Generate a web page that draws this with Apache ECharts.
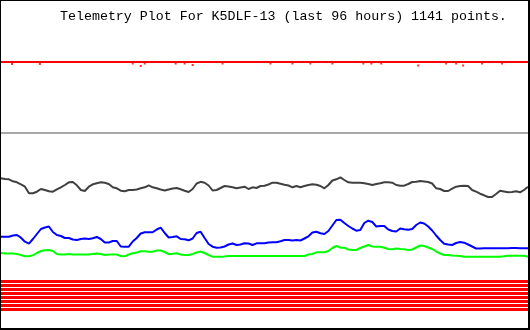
<!DOCTYPE html>
<html>
<head>
<meta charset="utf-8">
<script src="https://cdn.jsdelivr.net/npm/echarts@6/dist/echarts.min.js"></script>
<style>
html,body{margin:0;padding:0;background:#fff;}
#chart{width:530px;height:330px;}
</style>
</head>
<body>
<div id="chart"></div>
<script>
// Title
const titleText = "Telemetry Plot For K5DLF-13 (last 96 hours) 1141 points.";

// Channel readings (plot units, axis inverted), one sample per index (133 samples over 96 h)
const grayVals = [
178.3,179,179.3,181.3,182.3,184.3,186.7,193.3,193.3,191.7,189,190,191.3,191.7,189.3,187.3,185,182.3,182,185.3,190,191,186.7,184.3,183.3,182.3,182.7,184,187.3,188.3,190.7,191.3,190,190,
189.5,188.3,187.3,185.3,187.3,188.3,189.5,190.5,189.5,188.5,188,189.3,190.7,192,189,183.5,181.8,182.7,185.5,190.5,190,188,186,186.5,187.3,188.3,187.5,186.7,189,187.3,188,186,185.7,
184.5,182.7,182.7,183.7,184.7,185.5,187.3,186,187.3,186,185,184.3,184.7,186,188.3,185,180.5,179.3,177.3,180,182.3,182.7,182.7,182.7,183.3,184,185,184,183.3,182.3,182.3,182.7,
185,185.7,185.7,184,182,181.7,181,181.5,182,183.5,188.3,189,191,191,188.7,186.7,186,185.7,186,190,191.7,193.7,195.3,197,197,194,190.7,191.5,192.3,192,191.3,192.3,190,186.7];

const blueVals = [
236.7,236.7,236.7,235.5,235,237.7,241.7,243.7,239,234,229,227.5,226.5,232,235,236,238,238,239.5,240,239,238.5,239,238.3,237,239,242.5,242.5,241,241,246.5,246.7,246.7,241.5,
238,233.5,232.3,232.3,232.3,229.5,227.7,233,237.5,237,236.3,239,239.3,240.3,238.5,233,231.7,238,244,246.7,247.7,247.5,246.5,244.5,243.5,245,244.5,243.3,243.5,245,243.3,243.3,243.3,
242.5,242.3,242.3,241.3,240,240,240.5,240,240.5,238.5,236.3,232.5,231.7,233.3,234,231,225.5,220,219.7,223,226,228.5,230.7,230,223,220.7,222,226.5,226,226,229.5,231,
231.5,228.5,229.3,229.7,229,225,222.5,223.5,226.5,230.5,235.5,240,243.7,244.5,245,243,242,242.7,244.5,246.5,248.5,248.5,248.3,248.3,248.3,248.3,248.3,248.3,248.3,248,248,248.3,248.3,248.3];

const greenVals = [
253,253.5,253.5,253.5,254,255,256.3,256.3,255.3,253,251,250.3,250,251,254,254.5,254.5,254,254.5,254.5,254.5,254.5,254.5,254,253.5,254,255,254.5,254.5,254.5,256,256.3,254.5,253.3,
252.5,251.3,251.3,251.7,251.7,250.5,250.5,252,254,253.7,253.3,254.5,255,255,254,252.5,251.5,253,255,256.7,256.7,256.7,256.5,256,256,256,256,256,256,256,256,256,256,
256,256,256,256,256,256,256,256,256,256,254.5,254,252.3,252.3,252.3,251,248,246,247.7,247.7,249.5,250,250,248,246.5,245,246.5,246.7,246.7,247.7,249,249.3,
248.5,249,249.3,250,249.5,247.5,245.5,246,247.5,249,251.5,253.5,255,255,255.5,255.7,256,256.7,256.7,256.7,256.7,256.7,256.7,256.7,256.7,256.7,256.7,256.3,255.7,255.7,255.7,255.7,255.7,256.7];

// Top red channel: steady level with occasional single-sample drops
const redLevel = 62;
const redDipIdx = [2.75,9.75,33,35,36,43.75,46,48,55.5,67.5,73,77.5,83,90.75,92.75,95.25,104.5,111.5,114,115.75,120.5,125.5];
const redDipVals = [64,64,63.5,66,63.5,63.5,63.5,65,63.5,63.5,63.5,63.5,63.5,63.5,63.5,63.5,65.5,63.5,63.5,65.5,63.5,63.5];

// Reference level (gray) and digital bit channels (red bands)
const refLevel = 133;
const bitLevels = [281.5,285.5,289.5,293.5,297.5,301.5,305.5,309.5];

const lastIdx = grayVals.length - 1;
const toPairs = arr => arr.map((v, i) => [i, v]);
const flat = v => [[0, v], [lastIdx, v]];

const series = [];
bitLevels.forEach(v => series.push({type:'line', data: flat(v), showSymbol:false, lineStyle:{color:'#ff0000', width:3}, silent:true}));
series.push({type:'line', data: flat(refLevel), showSymbol:false, lineStyle:{color:'#a8a8a8', width:2}, silent:true});
series.push({type:'line', data: flat(redLevel), showSymbol:false, lineStyle:{color:'#ff0000', width:2}, silent:true});
series.push({type:'scatter', data: redDipIdx.map((x, i) => [x, redDipVals[i]]), symbol:'rect', symbolSize:[2,2], itemStyle:{color:'#ff0000'}, silent:true});
series.push({type:'line', data: toPairs(grayVals), showSymbol:false, lineStyle:{color:'#404040', width:2}, silent:true});
series.push({type:'line', data: toPairs(blueVals), showSymbol:false, lineStyle:{color:'#0000ff', width:2}, silent:true});
series.push({type:'line', data: toPairs(greenVals), showSymbol:false, lineStyle:{color:'#00ff00', width:2}, silent:true});

const chart = echarts.init(document.getElementById('chart'), null, {renderer:'canvas'});
chart.setOption({
  animation:false,
  backgroundColor:'#ffffff',
  title:{
    text:titleText, left:60, top:10, padding:0,
    textStyle:{fontFamily:'Liberation Mono', fontSize:13.3, fontWeight:'normal', color:'#000'}
  },
  grid:{left:1, right:2, top:0, bottom:0},
  xAxis:{type:'value', min:0, max:lastIdx, show:false, splitLine:{show:false}},
  yAxis:{type:'value', min:0, max:330, inverse:true, show:false, splitLine:{show:false}},
  graphic:[
    {type:'rect', shape:{x:0,y:0,width:530,height:1}, style:{fill:'#000'}, z:100},
    {type:'rect', shape:{x:0,y:0,width:1,height:330}, style:{fill:'#000'}, z:100},
    {type:'rect', shape:{x:528,y:0,width:2,height:330}, style:{fill:'#000'}, z:100},
    {type:'rect', shape:{x:0,y:328,width:530,height:2}, style:{fill:'#000'}, z:100}
  ],
  series: series
});
</script>
</body>
</html>
